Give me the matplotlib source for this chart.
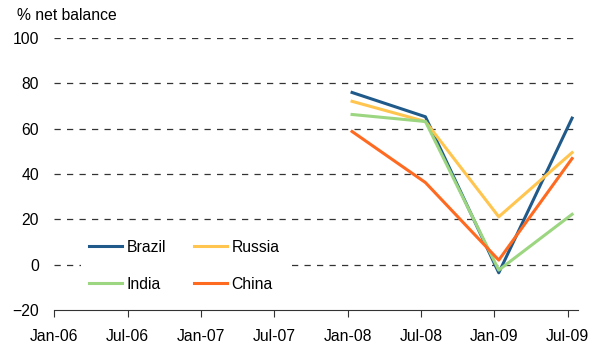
import matplotlib.pyplot as plt
import numpy as np

plt.rcParams['font.family'] = ['Liberation Sans', 'DejaVu Sans']

# category ticks, half-yearly
tick_labels = ['Jan-06', 'Jul-06', 'Jan-07', 'Jul-07', 'Jan-08', 'Jul-08', 'Jan-09', 'Jul-09']
# survey points sit slightly after the tick dates
data_idx = [4, 5, 6, 7]
brazil = [75.9, 65.2, -3.6, 64.6]
russia = [72.0, 63.1, 21.1, 49.4]
india = [66.2, 63.1, -2.4, 22.2]
china = [58.7, 36.2, 2.0, 46.8]

fs = 11.3

fig = plt.figure(figsize=(6.04, 3.47), dpi=100)
ax = fig.add_axes([0.0899, 0.1066, 0.867, 0.7844])

xd = np.array(data_idx) + 0.06
lb, = ax.plot(xd, brazil, color='#1f5a8a', lw=2.2, label='Brazil')
lr, = ax.plot(xd, russia, color='#ffc54f', lw=2.2, label='Russia')
li, = ax.plot(xd, india, color='#9cd680', lw=2.2, label='India')
lc, = ax.plot(xd, china, color='#ff6a21', lw=2.2, label='China')

ax.set_xlim(0, 7.14)
ax.set_ylim(-20, 100)
ax.set_xticks(range(len(tick_labels)))
ax.set_xticklabels(tick_labels)
ax.set_yticks(range(-20, 101, 20))

for v in range(0, 101, 20):
    ax.axhline(v, color='#333333', lw=0.9, dashes=(5, 5), zorder=0)

for s in ['top', 'right', 'left']:
    ax.spines[s].set_visible(False)
ax.spines['bottom'].set_color('#333333')
ax.tick_params(axis='y', length=0, pad=11, labelsize=fs)
ax.tick_params(axis='x', direction='out', length=5, color='#333333', pad=9, labelsize=fs)

fig.text(0.028, 0.955, '% net balance', fontsize=fs, va='center')

# matplotlib fills legend columns first, so order gives rows Brazil/Russia, India/China
leg = ax.legend([lb, li, lr, lc], ['Brazil', 'India', 'Russia', 'China'],
                ncol=2, loc='center', bbox_to_anchor=(0.248, 0.163), frameon=True,
                facecolor='white', edgecolor='none', framealpha=1, fancybox=False,
                fontsize=fs, handlelength=2.1, handletextpad=0.3, columnspacing=1.8,
                labelspacing=1.4, borderpad=0.5)

fig.savefig('out.png', dpi=100)
